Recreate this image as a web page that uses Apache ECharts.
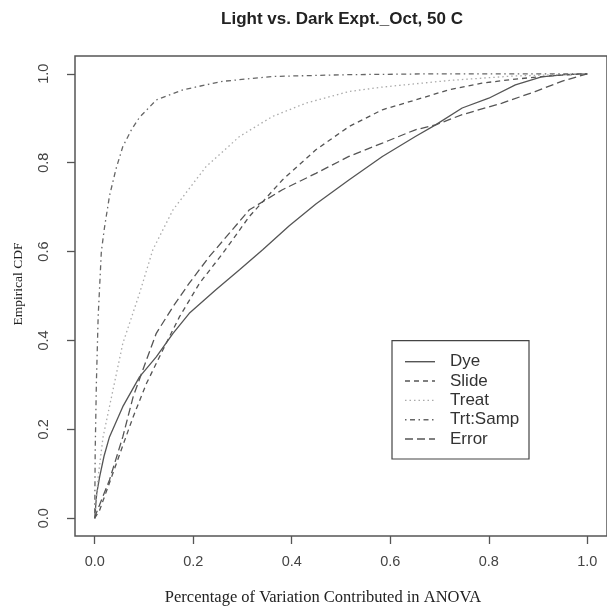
<!DOCTYPE html>
<html>
<head>
<meta charset="utf-8">
<script src="https://cdn.jsdelivr.net/npm/echarts@6/dist/echarts.min.js"></script>
<style>html,body{margin:0;padding:0;background:#fff}#c{width:607px;height:606px}</style>
</head>
<body>
<div id="c"></div>
<script>
// ---- data ----
const seriesNames = ["Dye", "Slide", "Treat", "Trt:Samp", "Error"];
const tickValues = [0, 0.2, 0.4, 0.6, 0.8, 1.0];

const dye = [[0,0],[0.004,0.055],[0.010,0.093],[0.019,0.140],[0.030,0.183],[0.057,0.251],[0.091,0.318],[0.125,0.363],[0.159,0.416],[0.192,0.461],[0.246,0.514],[0.294,0.559],[0.341,0.604],[0.395,0.658],[0.449,0.707],[0.516,0.761],[0.584,0.814],[0.651,0.859],[0.692,0.885],[0.746,0.923],[0.800,0.945],[0.854,0.975],[0.907,0.993],[0.955,0.998],[1.0,1.0]];
const slide = [[0,0],[0.010,0.018],[0.044,0.123],[0.078,0.228],[0.105,0.303],[0.138,0.378],[0.172,0.453],[0.213,0.529],[0.260,0.596],[0.314,0.679],[0.381,0.761],[0.449,0.829],[0.516,0.881],[0.584,0.919],[0.651,0.941],[0.719,0.964],[0.786,0.979],[0.854,0.988],[0.921,0.995],[1.0,1.0]];
const treat = [[0,0],[0.007,0.093],[0.017,0.183],[0.037,0.288],[0.057,0.393],[0.091,0.506],[0.118,0.604],[0.159,0.694],[0.226,0.791],[0.294,0.859],[0.361,0.904],[0.429,0.934],[0.516,0.960],[0.583,0.970],[0.720,0.985],[0.850,0.995],[1.0,1.0]];
const trtSamp = [[0,0],[0.001,0.15],[0.0034,0.304],[0.007,0.453],[0.0135,0.600],[0.020,0.655],[0.030,0.725],[0.043,0.785],[0.057,0.836],[0.075,0.875],[0.091,0.902],[0.125,0.941],[0.179,0.964],[0.260,0.983],[0.361,0.994],[0.516,0.998],[0.700,1.0],[1.0,1.0]];
const error = [[0,0],[0.003,0.011],[0.030,0.086],[0.057,0.183],[0.078,0.273],[0.105,0.356],[0.125,0.416],[0.159,0.476],[0.192,0.529],[0.233,0.589],[0.314,0.694],[0.381,0.739],[0.449,0.776],[0.516,0.814],[0.584,0.844],[0.651,0.874],[0.692,0.885],[0.746,0.908],[0.827,0.934],[0.894,0.960],[0.948,0.983],[1.0,1.0]];

// ---- styles ----
const seriesData = [dye, slide, treat, trtSamp, error];
const colors = ["#555555", "#555555", "#aaaaaa", "#666666", "#555555"];
const dashes = ["solid", [5, 4], [1.5, 3], [1.5, 3.5, 5, 3.5], [8, 4]];

const chart = echarts.init(document.getElementById('c'), null, {renderer: 'canvas'});

const G = {left: 75, top: 56, width: 534, height: 480};

function axisCommon() {
  return {
    type: 'value', min: -0.04, max: 1.04,
    axisLine: {show: false, onZero: false},
    splitLine: {show: false},
    axisTick: {show: true, customValues: tickValues, length: 8, inside: false,
      lineStyle: {color: '#555', width: 1.3}},
  };
}

const legendTop = 340.7, legendLeft = 392, legendW = 137, legendH = 118.3;
const legendRowY = [361.7, 381, 400.4, 419.7, 439];
const graphics = [
  {type: 'text', x: 342, y: 19, style: {text: 'Light vs. Dark Expt._Oct, 50 C', font: 'bold 17px "Liberation Sans", Arial, sans-serif', fill: '#222', textAlign: 'center', textVerticalAlign: 'middle'}},
  {type: 'text', x: 323, y: 598, style: {text: 'Percentage of Variation Contributed in ANOVA', font: '16.5px "Liberation Serif", "Times New Roman", serif', fill: '#222', textAlign: 'center', textVerticalAlign: 'middle'}},
  {type: 'text', x: 18, y: 284, rotation: Math.PI / 2, style: {text: 'Empirical CDF', font: '13.5px "Liberation Serif", "Times New Roman", serif', fill: '#222', textAlign: 'center', textVerticalAlign: 'middle'}},
  {type: 'rect', shape: {x: legendLeft, y: legendTop, width: legendW, height: legendH}, style: {fill: '#fff', stroke: '#444', lineWidth: 1.2}, z: 10}
];
seriesNames.forEach((n, i) => {
  graphics.push({type: 'line', shape: {x1: 405, y1: legendRowY[i], x2: 435, y2: legendRowY[i]},
    style: {stroke: colors[i], lineWidth: 1.4, lineDash: dashes[i] === 'solid' ? null : dashes[i]}, z: 11});
  graphics.push({type: 'text', x: 450, y: legendRowY[i], style: {text: n, font: '17px "Liberation Sans", Arial, sans-serif', fill: '#333', textVerticalAlign: 'middle'}, z: 11});
});

const option = {
  animation: false,
  backgroundColor: '#fff',
  grid: Object.assign({show: true, borderColor: '#555', borderWidth: 1.5, backgroundColor: 'transparent'}, G),
  xAxis: Object.assign(axisCommon(), {
    axisLabel: {customValues: tickValues, formatter: v => v.toFixed(1), fontSize: 14.5,
      fontFamily: '"Liberation Sans", Arial, sans-serif', color: '#444', margin: 18}
  }),
  yAxis: Object.assign(axisCommon(), {
    axisLabel: {customValues: tickValues, formatter: v => v.toFixed(1), fontSize: 14.5, rotate: 90,
      fontFamily: '"Liberation Sans", Arial, sans-serif', color: '#444', margin: 24}
  }),
  series: seriesNames.map((n, i) => ({
    name: n, type: 'line', data: seriesData[i], showSymbol: false, symbol: 'none',
    smooth: false,
    lineStyle: {color: colors[i], width: 1.3, type: dashes[i]},
    z: 2
  })),
  graphic: graphics
};
chart.setOption(option);
</script>
</body>
</html>
